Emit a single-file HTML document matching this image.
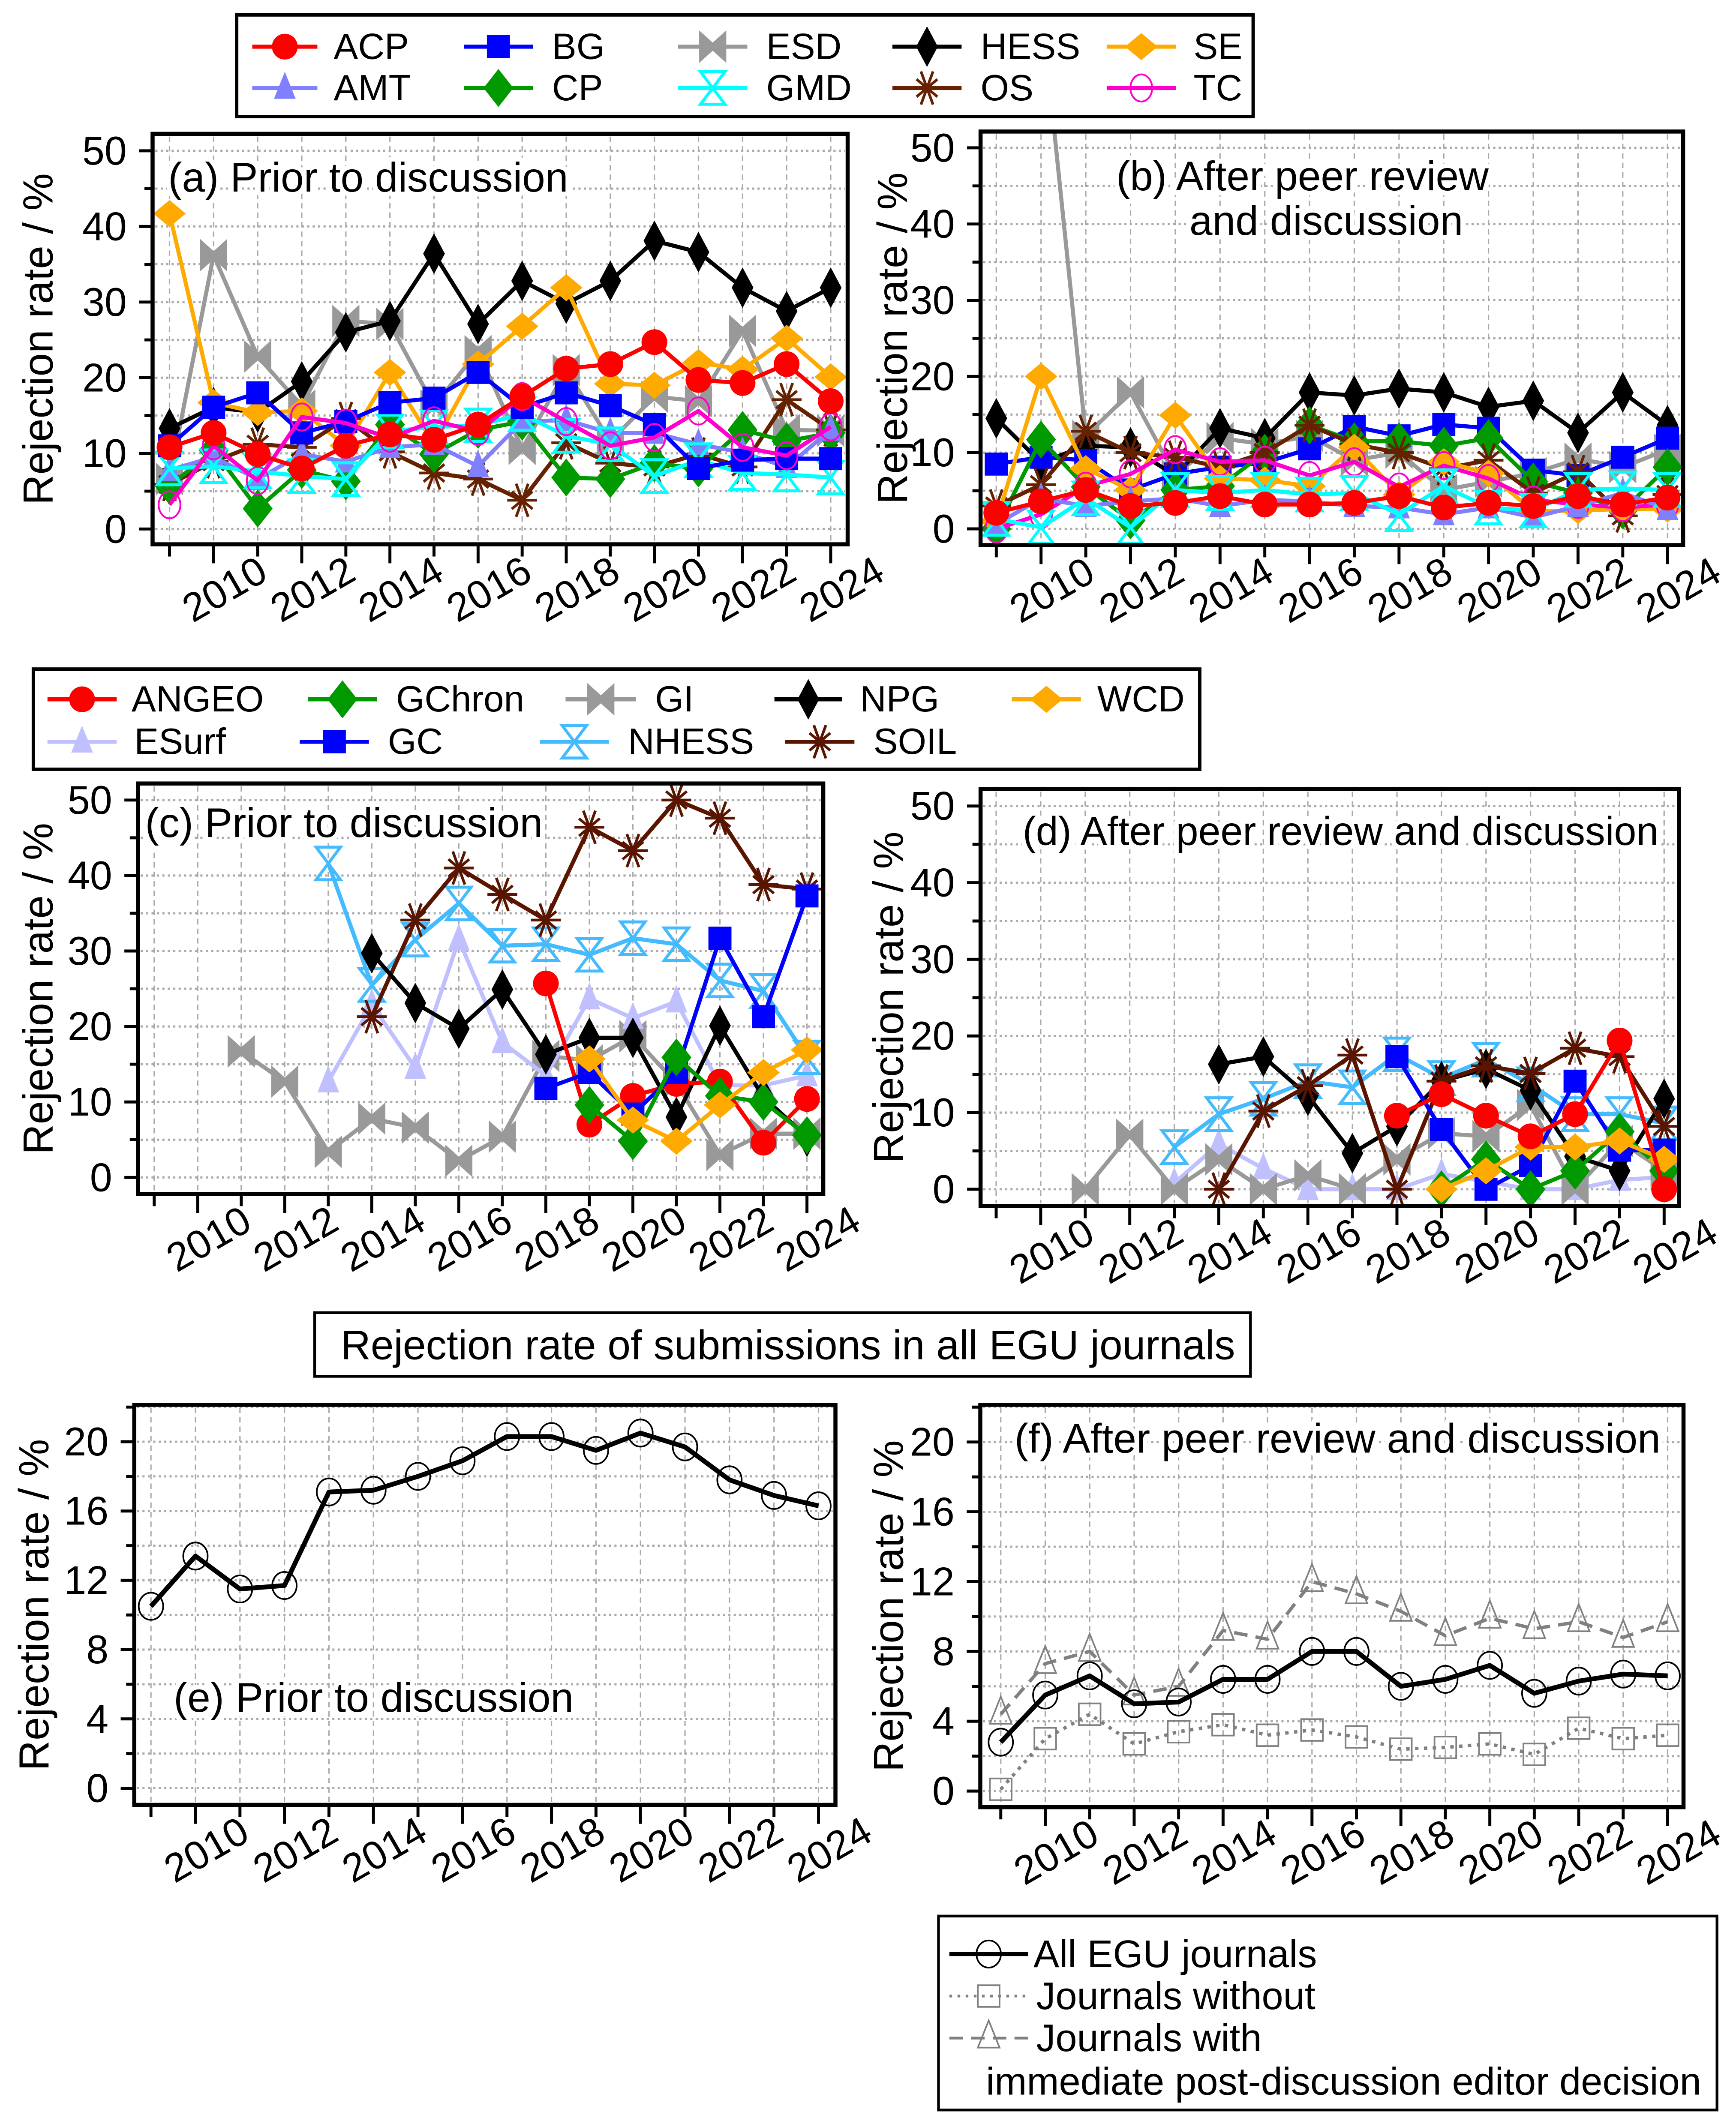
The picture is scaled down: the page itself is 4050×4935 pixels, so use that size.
<!DOCTYPE html>
<html><head><meta charset="utf-8">
<style>
html,body{margin:0;padding:0;background:#fff;}
svg{display:block;font-family:"Liberation Sans",Arial,sans-serif;}
</style></head>
<body>
<svg id="fig" xmlns="http://www.w3.org/2000/svg" width="4050" height="4935" viewBox="0 0 1280 1559.7" preserveAspectRatio="none"></svg>
<script>
// ---------- DATA (years 2009..2024) ----------
const years = [2009,2010,2011,2012,2013,2014,2015,2016,2017,2018,2019,2020,2021,2022,2023,2024];
const yearTickLabels = ['2010','2012','2014','2016','2018','2020','2022','2024'];
const _ = null;
// Panel (a) prior to discussion
const a_ACP  = [10.8,12.7,9.9,8,11,12.5,11.8,13.8,17.5,21.2,21.8,24.7,19.7,19.3,21.8,16.9];
const a_AMT  = [7.8,9.5,6.6,9.9,8.9,10.8,11.2,8.3,14.2,14.4,12.7,12.7,11.2,10.1,8.2,13.1];
const a_BG   = [11,16.1,18,12.7,14.2,16.7,17.3,20.7,16.1,18,16.3,13.8,8,9.1,9.3,9.3];
const a_CP   = [5.7,10.4,2.7,7.8,6.3,13.8,9.9,13.1,14.2,6.8,6.6,8.7,8,13.1,11.6,12.7];
const a_ESD  = [6.6,36.2,22.8,16.3,27.5,27.1,16.3,23.5,10.6,21,11.6,17.5,16.9,26.2,13.1,13];
const a_GMD  = [8,8.3,7.6,7,6.6,12.9,13.5,13.7,15.2,12.3,11.2,7,9.1,7.4,7.2,6.8];
const a_HESS = [13.3,16.1,15.4,19.5,26,27.5,36.4,27.1,32.8,29.8,32.8,38.1,36.6,31.9,28.8,31.9];
const a_OS   = [5.9,8.9,11.2,10.8,14.6,10.2,7.4,6.6,3.8,11.4,8.7,8.2,9.9,8.2,17.1,13.1];
const a_SE   = [41.7,16.7,15.4,15.6,11,20.7,11.2,21.8,26.8,31.9,19.2,19,22,21.1,25.2,20.1];
const a_TC   = [3.2,11,6.4,14.8,14,12,14.3,12.9,17.5,14.2,11,12.1,15.6,10.8,9.7,13.5];
// Panel (b) after peer review and discussion
const b_ACP  = [2.1,3.6,5.1,3,3.4,4.3,3.2,3.2,3.4,4.3,2.8,3.4,3,4.3,3.2,4.1];
const b_AMT  = [0.6,4,3,3.6,4,3,3.8,3.6,3,2.8,1.9,2.8,1.5,3,4.7,2.6];
const b_BG   = [8.5,9.4,9,5.1,7.2,8.1,8.7,10.5,13.4,12.2,13.7,13.2,7.7,7,9.4,11.9];
const b_CP   = [0,11.7,5.5,1.1,5.1,5.6,10,13.6,11.5,11.5,10.9,11.9,6.2,4.7,2.4,8.1];
const b_ESD  = [_,69,12.2,17.9,7,11.9,11.1,12.2,9,10,5.1,6.2,7.3,9.2,8.1,10.4];
const b_GMD  = [1.3,0.2,4,0.2,5.1,4.7,5.1,4.5,4.7,1.9,5.6,2.8,2.4,5.1,5.3,5.1];
const b_HESS = [14.5,8.7,10.9,10.7,7,13.2,11.9,17.9,17.5,18.4,17.9,16,16.8,12.6,17.9,13.6];
const b_OS   = [3,5.8,12.8,10,9.4,8.1,10,13.6,11.1,10,7.9,9,4.7,7.5,1.7,4.5];
const b_SE   = [1,20,7.9,5.1,14.9,6.6,6.4,5.6,10.7,4.5,8.8,7.3,2.3,2.4,2.6,2.6];
const b_TC   = [0,1.9,5.6,7.2,10.4,8.8,9,7,8.8,5.5,8.3,6.6,3.8,3.2,2.8,3.2];
// Panel (c) prior to discussion
const c_ANGEO  = [_,_,_,_,_,_,_,_,_,25.7,7,10.8,12.4,12.7,4.6,10.4];
const c_ESurf  = [_,_,_,_,12.7,22.9,14.5,31.5,17.9,13.5,23.7,21.1,23.3,12.2,12.2,13.5];
const c_GChron = [_,_,_,_,_,_,_,_,_,_,9.6,4.8,15.9,10.8,10,5.6];
const c_GC     = [_,_,_,_,_,_,_,_,_,11.8,13.9,8.4,13.9,31.7,21.3,37.3];
const c_GI     = [_,_,16.7,12.7,3.4,7.8,6.6,2.2,5.4,16.1,15.5,18.7,12.5,3,5.8,5.8];
const c_NHESS  = [_,_,_,_,41.6,25.5,31.5,36.3,30.7,30.9,29.5,31.7,30.9,26.1,24.7,15.9];
const c_NPG    = [_,_,_,_,_,29.7,23.1,19.7,24.9,16.3,18.5,18.5,8,20.1,10.6,5.4];
const c_SOIL   = [_,_,_,_,_,21.3,34.1,41,37.5,34.1,46.4,43.3,50,47.6,38.8,38.2];
const c_WCD    = [_,_,_,_,_,_,_,_,_,_,15.7,7.6,4.8,9.6,13.9,16.9];
// Panel (d) after peer review and discussion
const d_ANGEO  = [_,_,_,_,_,_,_,_,_,9.6,12.4,9.6,6.9,9.8,19.4,0];
const d_ESurf  = [_,_,_,_,0.8,5.9,2.7,0,0,0,2,1,0,0,1.2,1.6];
const d_GChron = [_,_,_,_,_,_,_,_,_,_,0,3.9,0,2.4,7.5,2.4];
const d_GC     = [_,_,_,_,_,_,_,_,_,17.3,7.8,0,3.1,14.1,5.1,5.1];
const d_GI     = [_,_,0,7.1,0,3.9,0,1.8,0,3.9,7.3,6.9,11,0,6.3,2.4];
const d_NHESS  = [_,_,_,_,5.5,9.8,11.8,14.1,13.3,17.6,14.5,16.9,13.7,9.8,9.8,8.6];
const d_NPG    = [_,_,_,_,_,16.3,17.3,12.2,4.7,8.2,14.1,15.7,12.9,4.3,2.4,11.8];
const d_SOIL   = [_,_,_,_,_,0,10.2,13.5,17.5,0,14.1,16.1,15.1,18.4,17.3,8.2];
const d_WCD    = [_,_,_,_,_,_,_,_,_,_,0,2.4,5.5,5.5,6.3,3.9];
// Panel (e) all EGU journals prior to discussion
const e_all = [10.5,13.4,11.5,11.7,17.1,17.2,18,18.9,20.3,20.3,19.5,20.5,19.7,17.8,16.9,16.3];
// Panel (f) after peer review and discussion
const f_all     = [2.8,5.5,6.6,5,5.1,6.4,6.4,8,8,6,6.4,7.2,5.6,6.3,6.7,6.6];
const f_without = [0.1,3,4.4,2.7,3.4,3.8,3.2,3.5,3.1,2.4,2.5,2.7,2.1,3.6,3,3.2];
const f_with    = [4.4,7.3,8,5.5,6,9.2,8.7,12,11.3,10.3,8.9,9.9,9.3,9.7,8.8,9.7];

// ---------- STYLE ----------
const STY = {
  ACP:{c:'#ff0000',m:'circle'}, ANGEO:{c:'#ff0000',m:'circle'},
  AMT:{c:'#8080ff',m:'tri'}, ESurf:{c:'#c0c0ff',m:'tri'},
  BG:{c:'#0000ff',m:'square'}, GC:{c:'#0000ff',m:'square'},
  CP:{c:'#009900',m:'diamondW'}, GChron:{c:'#009900',m:'diamondW'},
  ESD:{c:'#999999',m:'bowtie'}, GI:{c:'#999999',m:'bowtie'},
  GMD:{c:'#00ffff',m:'hourglass'}, NHESS:{c:'#44bbff',m:'hourglass'},
  HESS:{c:'#000000',m:'diamondT'}, NPG:{c:'#000000',m:'diamondT'},
  OS:{c:'#662200',m:'star'}, SOIL:{c:'#5a1500',m:'star'},
  SE:{c:'#ffaa00',m:'diamondF'}, WCD:{c:'#ffaa00',m:'diamondF'},
  TC:{c:'#ff00cc',m:'ocircle'}
};
const NS='http://www.w3.org/2000/svg';
const svg=document.getElementById('fig');
function mk(tag,attrs,parent){const e=document.createElementNS(NS,tag);for(const k in attrs)e.setAttribute(k,attrs[k]);(parent||svg).appendChild(e);return e;}
function txt(s,attrs,parent){const e=mk('text',attrs,parent);e.textContent=s;return e;}

function marker(g,type,x,y,c){
  let el;
  if(type==='circle'){el=mk('circle',{cx:x,cy:y,r:9.5,fill:c},g);}
  else if(type==='ocircle'){el=mk('ellipse',{cx:x,cy:y,rx:8,ry:10,fill:'none',stroke:c,'stroke-width':1.3},g);}
  else if(type==='square'){el=mk('rect',{x:x-8.5,y:y-8.5,width:17,height:17,fill:c},g);}
  else if(type==='tri'){el=mk('polygon',{points:`${x},${y-12} ${x+8},${y+8} ${x-8},${y+8}`,fill:c},g);}
  else if(type==='diamondW'){el=mk('polygon',{points:`${x},${y-14} ${x+11},${y} ${x},${y+14} ${x-11},${y}`,fill:c},g);}
  else if(type==='diamondT'){el=mk('polygon',{points:`${x},${y-15} ${x+8},${y} ${x},${y+15} ${x-8},${y}`,fill:c},g);}
  else if(type==='diamondF'){el=mk('polygon',{points:`${x},${y-10} ${x+12},${y} ${x},${y+10} ${x-12},${y}`,fill:c},g);}
  else if(type==='bowtie'){el=mk('polygon',{points:`${x-10},${y-12} ${x},${y-3} ${x+10},${y-12} ${x+10},${y+12} ${x},${y+3} ${x-10},${y+12}`,fill:c},g);}
  else if(type==='hourglass'){el=mk('polygon',{points:`${x-9},${y-12} ${x+9},${y-12} ${x},${y} ${x+9},${y+12} ${x-9},${y+12} ${x},${y}`,fill:'none',stroke:c,'stroke-width':2.2},g);}
  else if(type==='star'){
    el=mk('g',{},g);
    [[0,11],[70,13],[110,13],[40,10],[140,10]].forEach(([ang,len])=>{const r=ang*Math.PI/180;
      mk('line',{x1:x-len*Math.cos(r),y1:y-len*Math.sin(r),x2:x+len*Math.cos(r),y2:y+len*Math.sin(r),stroke:c,'stroke-width':2},el);});
  }
  else if(type==='osquare'){el=mk('rect',{x:x-8,y:y-8,width:16,height:16,fill:'none',stroke:'#808080','stroke-width':1.2},g);}
  else if(type==='otri'){el=mk('polygon',{points:`${x},${y-13} ${x+8},${y+7} ${x-8},${y+7}`,fill:'none',stroke:'#808080','stroke-width':1.2},g);}
  else if(type==='ocircleK'){el=mk('ellipse',{cx:x,cy:y,rx:9,ry:10,fill:'none',stroke:'#000','stroke-width':1.2},g);}
  return el;
}

let clipId=0;
function makePanel(p){
  const g=mk('g',{});
  
  
  const sx=yr=>p.xa+(yr-2009)*(p.xb-p.xa)/15;
  const sy=v=>p.y0+(p.yT-p.y0)*v/p.vT;
  const grid=mk('g',{},g);
  
  
  for(const yr of years){mk('line',{x1:sx(yr),x2:sx(yr),y1:p.by0+2,y2:p.by1-2,stroke:'#aaaaaa','stroke-width':1,'stroke-dasharray':'4 3'},grid);}
  for(let v=0;v<=p.gridMax+1e-9;v+=p.minor){mk('line',{x1:p.bx0+2,x2:p.bx1-2,y1:sy(v),y2:sy(v),stroke:'#aaaaaa','stroke-width':1.6,'stroke-dasharray':'1.6 2.4'},grid);}
  const yax=mk('g',{},g);
  
  
  for(let v=0;v<=p.gridMax+1e-9;v+=p.minor){
    const major=Math.abs(v/p.major-Math.round(v/p.major))<1e-6;
    mk('line',{x1:p.bx0-(major?10:6),x2:p.bx0,y1:sy(v),y2:sy(v),stroke:'#000','stroke-width':2.2},yax);
    if(major){const t=txt(String(Math.round(v)),{x:p.bx0-19,y:sy(v),'text-anchor':'end','dominant-baseline':'central','font-size':29.5},yax);
      
      }
  }
  const yt=txt('Rejection rate / %',{x:0,y:0,'text-anchor':'middle','dominant-baseline':'central','font-size':31,transform:`translate(${p.ytx},${(p.by0+p.by1)/2}) rotate(-90)`},g);
  
  
  const xax=mk('g',{},g);
  
  
  for(const yr of years){const even=yr%2===0;
    mk('line',{x1:sx(yr),x2:sx(yr),y1:p.by1,y2:p.by1+(even?14:9),stroke:'#000','stroke-width':2.2},xax);}
  yearTickLabels.forEach(s=>{const yr=+s;const cx=sx(yr)+8,cy=p.by1+33;
    const t=txt(s,{x:0,y:0,'text-anchor':'middle','dominant-baseline':'central','font-size':29.5,transform:`translate(${cx},${cy}) rotate(-30)`},xax);
    
    });
  const cid='clip'+(clipId++);
  const cp=mk('clipPath',{id:cid},g);
  mk('rect',{x:p.bx0,y:p.by0,width:p.bx1-p.bx0,height:p.by1-p.by0},cp);
  p.labels.forEach(([s,x,y])=>{const t=txt(s,{x:x,y:y,'dominant-baseline':'central','font-size':p.lfs||30.5,fill:'#000',stroke:'#fff','stroke-width':7,'paint-order':'stroke','stroke-linejoin':'round'},g);
    
    });
  const sg=mk('g',{'clip-path':`url(#${cid})`},g);
  
  
  p.series.forEach(s=>{
    const ser=mk('g',{},sg);
    
    
    const pts=[];s.data.forEach((v,i)=>{if(v!==null&&v!==undefined)pts.push([sx(years[i]),sy(v)]);});
    const attrs={points:pts.map(q=>q.join(',')).join(' '),fill:'none',stroke:s.lc||s.c,'stroke-width':s.lw||3,'stroke-linejoin':'round'};
    if(s.dash)attrs['stroke-dasharray']=s.dash;
    const pl=mk('polyline',attrs,ser);
    
    
    pts.forEach(q=>{const m=marker(ser,s.m,q[0],q[1],s.c);
      
      });
  });
  const box=mk('rect',{x:p.bx0,y:p.by0,width:p.bx1-p.bx0,height:p.by1-p.by0,fill:'none',stroke:'#000','stroke-width':3},g);
  
  
}
function ser(key,data){return Object.assign({key:key,data:data},STY[key]);}

makePanel({name:'panel-a',bx0:112.5,bx1:625,by0:98.7,by1:401.4,xa:125,xb:612.5,y0:390.1,yT:111.2,vT:50,gridMax:50,minor:5,major:10,ytx:28,
  labels:[['(a) Prior to discussion',124,131]],
  series:[ser('ESD',a_ESD),ser('HESS',a_HESS),ser('SE',a_SE),ser('OS',a_OS),ser('CP',a_CP),ser('AMT',a_AMT),ser('GMD',a_GMD),ser('BG',a_BG),ser('TC',a_TC),ser('ACP',a_ACP)]});
makePanel({name:'panel-b',bx0:723,bx1:1241,by0:97,by1:402,xa:734.6,xb:1229.5,y0:390,yT:109,vT:50,gridMax:50,minor:5,major:10,ytx:658,
  labels:[['(b) After peer review',823,130],['and discussion',877,163]],
  series:[ser('ESD',b_ESD),ser('HESS',b_HESS),ser('BG',b_BG),ser('CP',b_CP),ser('OS',b_OS),ser('SE',b_SE),ser('TC',b_TC),ser('AMT',b_AMT),ser('GMD',b_GMD),ser('ACP',b_ACP)]});
makePanel({name:'panel-c',bx0:101.7,bx1:607,by0:577.8,by1:880.5,xa:113.7,xb:595,y0:868.3,yT:590,vT:50,gridMax:50,minor:5,major:10,ytx:28,
  labels:[['(c) Prior to discussion',107,607]],
  series:[ser('GI',c_GI),ser('ESurf',c_ESurf),ser('NHESS',c_NHESS),ser('SOIL',c_SOIL),ser('NPG',c_NPG),ser('ANGEO',c_ANGEO),ser('GC',c_GC),ser('GChron',c_GChron),ser('WCD',c_WCD)]});
makePanel({name:'panel-d',bx0:723,bx1:1238,by0:581.8,by1:889.4,xa:734.5,xb:1227,y0:877,yT:594.4,vT:50,gridMax:50,minor:5,major:10,ytx:655,lfs:29.5,
  labels:[['(d) After peer review and discussion',754,613]],
  series:[ser('ESurf',d_ESurf),ser('GI',d_GI),ser('NHESS',d_NHESS),ser('NPG',d_NPG),ser('SOIL',d_SOIL),ser('GC',d_GC),ser('GChron',d_GChron),ser('WCD',d_WCD),ser('ANGEO',d_ANGEO)]});
makePanel({name:'panel-e',bx0:99,bx1:616,by0:1036,by1:1331,xa:111.3,xb:603.5,y0:1318.7,yT:1063.2,vT:20,gridMax:22,minor:2,major:4,ytx:25,
  labels:[['(e) Prior to discussion',128,1252]],
  series:[{key:'All',data:e_all,c:'#000',m:'ocircleK',lw:3.5}]});
makePanel({name:'panel-f',bx0:722.8,bx1:1241.3,by0:1036,by1:1332.7,xa:737.9,xb:1229.6,y0:1320.8,yT:1063.4,vT:20,gridMax:22,minor:2,major:4,ytx:655,
  labels:[['(f) After peer review and discussion',748,1061]],
  series:[{key:'Without',data:f_without,c:'#808080',m:'osquare',lw:2.5,dash:'2.5 4'},
          {key:'With',data:f_with,c:'#808080',m:'otri',lw:2.5,dash:'10 6'},
          {key:'All',data:f_all,c:'#000',m:'ocircleK',lw:3.5}]});

// ---------- LEGENDS ----------
function legend(name,box,entries){
  const g=mk('g',{});
  
  
  mk('rect',{x:box[0],y:box[1],width:box[2]-box[0],height:box[3]-box[1],fill:'#fff',stroke:'#000','stroke-width':2.5},g);
  entries.forEach(([key,lx0,lx1,tx,y])=>{
    const e=mk('g',{},g);
    
    
    const s=STY[key];
    mk('line',{x1:lx0,x2:lx1,y1:y,y2:y,stroke:s.c,'stroke-width':3},e);
    marker(e,s.m,(lx0+lx1)/2,y,s.c);
    txt(key,{x:tx,y:y,'dominant-baseline':'central','font-size':27},e);
  });
}
legend('legend-top',[174.5,11,924,86],[
  ['ACP',186,234,246,34.4],['BG',342,393,407,34.4],['ESD',500,551,565,34.4],['HESS',658,709,723,34.4],['SE',816,867,880,34.4],
  ['AMT',186,234,246,64.9],['CP',342,393,407,64.9],['GMD',500,551,565,64.9],['OS',658,709,723,64.9],['TC',816,867,880,64.9]]);
legend('legend-middle',[24.6,493.4,884.6,567.3],[
  ['ANGEO',35,86,97,515.7],['GChron',227,278,292,515.7],['GI',417,469,483,515.7],['NPG',571,621,634,515.7],['WCD',746,797,809,515.7],
  ['ESurf',35,86,99,547],['GC',221,272,286,547],['NHESS',398,449,463,547],['SOIL',579,630,644,547]]);

(function(){
  const g=mk('g',{});
  
  
  mk('rect',{x:232,y:968,width:690,height:47,fill:'#fff',stroke:'#000','stroke-width':2},g);
  const t=txt('Rejection rate of submissions in all EGU journals',{x:581,y:992,'text-anchor':'middle','dominant-baseline':'central','font-size':30.5},g);
  
  
})();

(function(){
  const g=mk('g',{});
  
  
  mk('rect',{x:692,y:1413,width:574,height:143,fill:'#fff',stroke:'#000','stroke-width':2},g);
  const e1=mk('g',{},g);
  
  
  mk('line',{x1:700,x2:758,y1:1441,y2:1441,stroke:'#000','stroke-width':3},e1);
  marker(e1,'ocircleK',729,1441,'#000');
  txt('All EGU journals',{x:762,y:1441,'dominant-baseline':'central','font-size':28.5},e1);
  const e2=mk('g',{},g);
  
  
  mk('line',{x1:700,x2:758,y1:1472,y2:1472,stroke:'#808080','stroke-width':2,'stroke-dasharray':'2 4'},e2);
  marker(e2,'osquare',729,1472,'#808080');
  txt('Journals without',{x:764,y:1472,'dominant-baseline':'central','font-size':28.5},e2);
  const e3=mk('g',{},g);
  
  
  mk('line',{x1:700,x2:758,y1:1503,y2:1503,stroke:'#808080','stroke-width':2,'stroke-dasharray':'10 6'},e3);
  marker(e3,'otri',729,1503,'#808080');
  txt('Journals with',{x:764,y:1503,'dominant-baseline':'central','font-size':28.5},e3);
  txt('immediate post-discussion editor decision',{x:727,y:1535,'dominant-baseline':'central','font-size':28.5},e3);
})();
</script>
</body></html>
